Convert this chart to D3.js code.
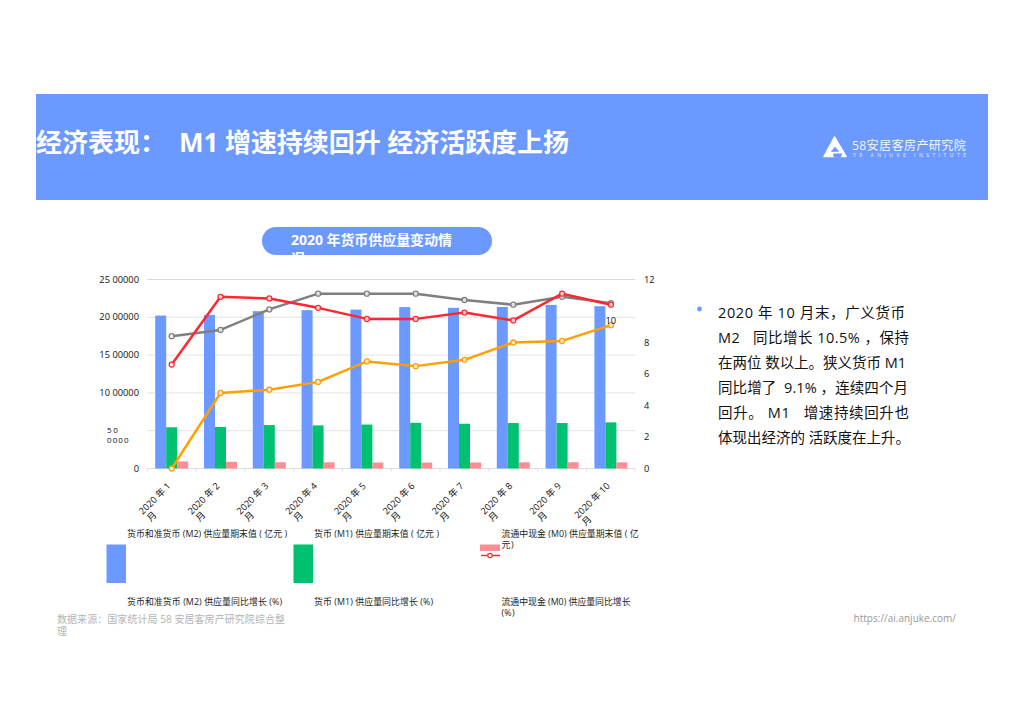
<!DOCTYPE html>
<html><head><meta charset="utf-8">
<script src="https://cdnjs.cloudflare.com/ajax/libs/d3/7.8.5/d3.min.js"></script>
<style>
html,body{margin:0;padding:0;background:#fff}
svg{display:block}
text{font-family:"Open Sans","Noto Sans CJK SC",sans-serif}
</style></head><body>
<svg id="c" width="1024" height="724"></svg>
<script>
const months=["2020 年 1|月","2020 年 2|月","2020 年 3|月","2020 年 4|月","2020 年 5|月","2020 年 6|月","2020 年 7|月","2020 年 8|月","2020 年 9|月","2020 年 10|月"];
const m2Stock=[202300,203100,208100,209400,210200,213500,212600,213700,216400,214700];
const m1Stock=[54500,55000,57500,57000,58100,60400,59200,60100,60200,61000];
const m0Stock=[9300,8800,8300,8200,7900,7900,8000,8200,8300,8200];
const m2Growth=[8.4,8.8,10.1,11.1,11.1,11.1,10.7,10.4,10.9,10.5];
const m1Growth=[0.0,4.8,5.0,5.5,6.8,6.5,6.9,8.0,8.1,9.1];
const m0Growth=[6.6,10.9,10.8,10.2,9.5,9.5,9.9,9.4,11.1,10.4];
const leftTicks=[0,50000,100000,150000,200000,250000];
const leftLabels=["0","50|0000","10 00000","15 00000","20 00000","25 00000"];
const rightTicks=[0,2,4,6,8,12];
const blue="#6b99ff",green="#00c170",pink="#ff8d95",red="#ff2832",grey="#7f7f7f",orange="#ff9f00";
const barSeries=[{v:m2Stock,c:blue},{v:m1Stock,c:green},{v:m0Stock,c:pink}];
const lineSeries=[{v:m2Growth,c:grey},{v:m0Growth,c:red},{v:m1Growth,c:orange}];
const headingA="经济表现：";
const headingB="M1 增速持续回升 经济活跃度上扬";
const bodyLines=[["2020 年 10 月末，广义货币",187],["M2   同比增长 10.5% ，保持",191],["在两位 数以上。狭义货币 M1",188],["同比增了  9.1% ，连续四个月",190],["回升。 M1   增速持续回升也",191],["体现出经济的 活跃度在上升。",192]];

const svg=d3.select("#c");
const L=147.3,R=635.3,T=279.5,B=468.5;
const x0=d3.scaleBand().domain(d3.range(months.length)).range([L,R]).paddingInner(0.324).paddingOuter(0.162);
const x1=d3.scaleBand().domain(d3.range(3)).range([0,x0.bandwidth()]);
const y=d3.scaleLinear().domain([0,250000]).range([B,T]);
const yr=d3.scaleLinear().domain([0,12]).range([B,T]);
const xc=i=>x0(i)+x0.bandwidth()/2;

// header
svg.append("rect").attr("x",36).attr("y",94).attr("width",952).attr("height",106).attr("fill",blue);
svg.append("text").attr("x",36).attr("y",151.5).attr("fill","#fff").attr("font-size",26).attr("font-weight",700).text(headingA);
svg.append("text").attr("x",179).attr("y",151.5).attr("fill","#fff").attr("font-size",26).attr("font-weight",700).attr("textLength",390).text(headingB);
// logo
const lg=svg.append("g");
lg.append("path").attr("fill","#fff").attr("stroke","#fff").attr("stroke-width",1.5).attr("stroke-linejoin","round").attr("fill-rule","evenodd")
 .attr("d","M834.5,137 L824,156.5 L846,156.5 Z M835,145.5 L829,152.5 L841,152.5 Z");
lg.append("path").attr("fill",blue).attr("d","M833,153.5 L842,153.5 L841,157.5 L834,157.5 Z");
lg.append("text").attr("x",852).attr("y",150).attr("fill","#fff").attr("font-size",12.2).attr("textLength",114).attr("opacity",.92).text("58安居客房产研究院");
lg.append("text").attr("x",853).attr("y",157).attr("fill","#fff").attr("font-size",5).attr("textLength",113).attr("opacity",.85).text("58 ANJUKE  INSTITUTE");

// pill
const defs=svg.append("defs");
defs.append("clipPath").attr("id","pill").append("rect").attr("x",262).attr("y",227).attr("width",230).attr("height",28).attr("rx",14);
const pg=svg.append("g").attr("clip-path","url(#pill)");
pg.append("rect").attr("x",262).attr("y",227).attr("width",230).attr("height",28).attr("fill",blue);
pg.append("text").attr("x",291).attr("y",245).attr("fill","#fff").attr("font-size",14).attr("font-weight",700).attr("textLength",161).text("2020 年货币供应量变动情");
pg.append("text").attr("x",291).attr("y",263).attr("fill","#fff").attr("font-size",14).attr("font-weight",700).text("况");

// grid
svg.append("g").selectAll("line").data(leftTicks.slice(1)).join("line")
 .attr("x1",L).attr("x2",R).attr("y1",d=>y(d)).attr("y2",d=>y(d))
 .attr("stroke",d=>d===250000?"#d9d9d9":"#e8e8e8").attr("stroke-width",1.2);
// x axis line+ticks
svg.append("line").attr("x1",L).attr("x2",R).attr("y1",B).attr("y2",B).attr("stroke","#dedede");
svg.append("g").selectAll("line").data(d3.range(months.length+1)).join("line")
 .attr("x1",i=>L+i*x0.step()).attr("x2",i=>L+i*x0.step()).attr("y1",B).attr("y2",B+3).attr("stroke","#dedede");

// bars
barSeries.forEach((s,k)=>{
 svg.append("g").selectAll("rect").data(s.v).join("rect")
  .attr("x",(d,i)=>x0(i)+x1(k)).attr("width",x1.bandwidth())
  .attr("y",d=>y(d)).attr("height",d=>B-y(d)).attr("fill",s.c);
});
// lines
const line=d3.line().x((d,i)=>xc(i)).y(d=>yr(d));
lineSeries.forEach(s=>{
 const g=svg.append("g");
 g.append("path").attr("d",line(s.v)).attr("fill","none").attr("stroke",s.c).attr("stroke-width",2.5).attr("stroke-linejoin","round");
 g.selectAll("circle").data(s.v).join("circle").attr("cx",(d,i)=>xc(i)).attr("cy",d=>yr(d)).attr("r",2.5)
  .attr("fill","#fff").attr("fill-opacity",.75).attr("stroke",s.c).attr("stroke-width",1.3);
});

// left axis labels
const ax=svg.append("g").attr("font-size",9.3).attr("fill","#111");
leftTicks.forEach((t,i)=>{
 const parts=leftLabels[i].split("|");
 if(parts.length===1) ax.append("text").attr("x",139).attr("y",y(t)+3).attr("text-anchor","end").text(parts[0]);
 else parts.forEach((p,j)=>ax.append("text").attr("x",107).attr("y",y(t)+2.5+j*10).attr("font-size",8).attr("textLength",p.length*5.4).text(p));
});
rightTicks.forEach(t=>ax.append("text").attr("x",644).attr("y",yr(t)+3).text(t));
ax.append("text").attr("x",605.5).attr("y",324).text("10");

// month labels
months.forEach((m,i)=>{
 const [a,b]=m.split("|");
 const g=svg.append("g").attr("font-size",9.2).attr("fill","#111")
  .attr("transform",`translate(${xc(i)-2.5},${484.5}) rotate(-45)`);
 g.append("text").attr("x",0).attr("y",3).attr("text-anchor","end").text(a);
 g.append("text").attr("x",a.length>8?-41:-35).attr("y",13.5).attr("text-anchor","middle").text(b);
});

// legend
svg.append("rect").attr("x",106.5).attr("y",544.5).attr("width",19.5).attr("height",38.5).attr("fill",blue);
svg.append("rect").attr("x",293.5).attr("y",544.5).attr("width",19.5).attr("height",38.5).attr("fill",green);
svg.append("rect").attr("x",480).attr("y",544.5).attr("width",20).attr("height",6.5).attr("fill",pink);
svg.append("line").attr("x1",481).attr("x2",500).attr("y1",555.5).attr("y2",555.5).attr("stroke",red).attr("stroke-width",1.5);
svg.append("circle").attr("cx",490).attr("cy",555.5).attr("r",2.2).attr("fill","#fff").attr("stroke",red).attr("stroke-width",1.2);
const legendTexts=[[127,537,"货币和准货币 (M2) 供应量期末值 ( 亿元 )",160],[314,537,"货币 (M1) 供应量期末值 ( 亿元 )",125],[501.5,537,"流通中现金 (M0) 供应量期末值 ( 亿",137],[501.5,548,"元 )",12],
[127,605,"货币和准货币 (M2) 供应量同比增长 (%)",155],[314,605,"货币 (M1) 供应量同比增长 (%)",119],[501.5,605,"流通中现金 (M0) 供应量同比增长",129],[501.5,616,"(%)",13]];
svg.append("g").selectAll("text").data(legendTexts).join("text").attr("x",d=>d[0]).attr("y",d=>d[1]).attr("font-size",8.9).attr("fill","#222").attr("textLength",d=>d[3]).text(d=>d[2]);

// footer
svg.append("text").attr("x",57).attr("y",622.5).attr("font-size",10).attr("fill","#b4b4b4").attr("textLength",228).text("数据来源：国家统计局  58 安居客房产研究院综合整");
svg.append("text").attr("x",57).attr("y",634.5).attr("font-size",10).attr("fill","#b4b4b4").text("理");
svg.append("text").attr("x",956).attr("y",622).attr("text-anchor","end").attr("font-size",10).attr("fill","#999").text("https://ai.anjuke.com/");

// body
svg.append("circle").attr("cx",699.5).attr("cy",309).attr("r",2.4).attr("fill",blue);
svg.append("g").selectAll("text").data(bodyLines).join("text")
 .attr("x",718).attr("y",(d,i)=>318+i*25).attr("font-size",14.5).attr("fill","#111").attr("textLength",d=>d[1]).style("white-space","pre").text(d=>d[0]);
</script>
</body></html>
